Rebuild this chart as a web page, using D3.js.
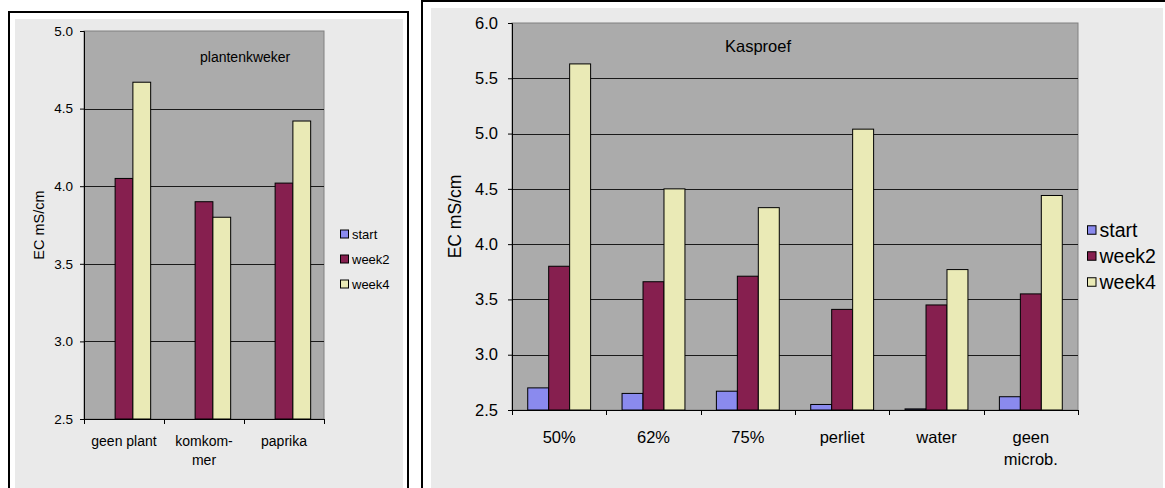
<!DOCTYPE html>
<html>
<head>
<meta charset="utf-8">
<script src="https://cdn.jsdelivr.net/npm/d3@7"></script>
<style>
  body { margin: 0; background: #fff; }
  svg { display: block; font-family: "Liberation Sans", Arial, sans-serif; }
</style>
</head>
<body>
<svg id="charts" width="1165" height="488"></svg>
<script>
// series names and colours (shared by both charts)
var seriesNames = ["start", "week2", "week4"];
var seriesColors = ["#8a8aee", "#861f4f", "#eaeab6"];

// left chart: plantenkweker
var leftCategories = ["geen plant", "komkom-\nmer", "paprika"];
var leftStart = [null, null, null];
var leftWeek2 = [4.05, 3.90, 4.02];
var leftWeek4 = [4.67, 3.80, 4.42];
var leftTicks = [2.5, 3.0, 3.5, 4.0, 4.5, 5.0];

// right chart: Kasproef
var rightCategories = ["50%", "62%", "75%", "perliet", "water", "geen\nmicrob."];
var rightStart = [2.70, 2.65, 2.67, 2.55, 2.51, 2.62];
var rightWeek2 = [3.80, 3.66, 3.71, 3.41, 3.45, 3.55];
var rightWeek4 = [5.63, 4.50, 4.33, 5.04, 3.77, 4.44];
var rightTicks = [2.5, 3.0, 3.5, 4.0, 4.5, 5.0, 5.5, 6.0];

var svg = d3.select("#charts");

function drawChart(opt) {
    var g = svg.append("g");

    // frame: black border, white gap, light gray chart area
    g.append("rect")
        .attr("x", opt.frame[0]).attr("y", opt.frame[1])
        .attr("width", opt.frame[2]).attr("height", opt.frame[3])
        .attr("fill", "#fff").attr("stroke", "#000").attr("stroke-width", 2);
    g.append("rect")
        .attr("x", opt.inner[0]).attr("y", opt.inner[1])
        .attr("width", opt.inner[2]).attr("height", opt.inner[3])
        .attr("fill", "#eaeaea");

    var x = d3.scaleBand()
        .domain(opt.categories)
        .range([opt.plot.left, opt.plot.right]);

    var xs = d3.scaleBand()
        .domain(seriesNames)
        .range([0, x.bandwidth()])
        .paddingInner(0)
        .paddingOuter(0.75);

    var y = d3.scaleLinear()
        .domain([opt.ticks[0], opt.ticks[opt.ticks.length - 1]])
        .range([opt.plot.bottom, opt.plot.top]);

    // plot area
    g.append("rect")
        .attr("x", opt.plot.left).attr("y", opt.plot.top)
        .attr("width", opt.plot.right - opt.plot.left)
        .attr("height", opt.plot.bottom - opt.plot.top)
        .attr("fill", "#ababab").attr("stroke", "#808080");

    // gridlines
    g.selectAll(".grid")
        .data(opt.ticks.slice(1, -1))
        .enter().append("line")
        .attr("x1", opt.plot.left).attr("x2", opt.plot.right)
        .attr("y1", function (d) { return Math.round(y(d)) + 0.5; })
        .attr("y2", function (d) { return Math.round(y(d)) + 0.5; })
        .attr("stroke", "#1a1a1a");

    // title
    g.append("text")
        .attr("x", opt.title.x).attr("y", opt.title.y)
        .style("font-size", opt.title.size + "px")
        .text(opt.title.text);

    // bars
    var table = [];
    opt.categories.forEach(function (c, i) {
        opt.values.forEach(function (vals, s) {
            if (vals[i] != null) {
                table.push({ cat: c, series: seriesNames[s], value: vals[i], color: seriesColors[s] });
            }
        });
    });

    g.selectAll(".bar")
        .data(table)
        .enter().append("rect")
        .attr("x", function (d) { return x(d.cat) + xs(d.series); })
        .attr("width", xs.bandwidth())
        .attr("y", function (d) { return y(d.value); })
        .attr("height", function (d) { return y.range()[0] - y(d.value); })
        .attr("fill", function (d) { return d.color; })
        .attr("stroke", "#000")
        .attr("stroke-width", 1);

    // y axis
    var yAxis = g.append("g")
        .attr("transform", "translate(" + opt.plot.left + ",0)")
        .call(d3.axisLeft(y).tickValues(opt.ticks).tickFormat(d3.format(".1f")).tickSize(4).tickPadding(opt.tickPad));
    yAxis.select(".domain").attr("stroke", "#000");
    yAxis.selectAll(".tick line").attr("stroke", "#000");
    yAxis.selectAll("text")
        .style("font-size", opt.tickSize + "px")
        .style("font-family", "Liberation Sans, Arial, sans-serif")
        .attr("fill", "#000");

    // x axis: ticks at category boundaries
    var xAxisG = g.append("g");
    xAxisG.append("line")
        .attr("x1", opt.plot.left).attr("x2", opt.plot.right)
        .attr("y1", opt.plot.bottom + 0.5).attr("y2", opt.plot.bottom + 0.5)
        .attr("stroke", "#000");
    var bounds = opt.categories.map(function (c) { return x(c); }).concat([opt.plot.right]);
    xAxisG.selectAll(".xt")
        .data(bounds)
        .enter().append("line")
        .attr("x1", function (d) { return Math.round(d) + 0.5; })
        .attr("x2", function (d) { return Math.round(d) + 0.5; })
        .attr("y1", opt.plot.bottom).attr("y2", opt.plot.bottom + 5)
        .attr("stroke", "#000");

    var labels = xAxisG.selectAll(".xl")
        .data(opt.categories)
        .enter().append("text")
        .attr("text-anchor", "middle")
        .style("font-size", opt.labelSize + "px")
        .attr("y", opt.plot.bottom + opt.labelOffset);
    labels.each(function (c) {
        var t = d3.select(this);
        c.split("\n").forEach(function (line, k) {
            t.append("tspan")
                .attr("x", x(c) + x.bandwidth() / 2)
                .attr("dy", k === 0 ? 0 : opt.lineHeight)
                .text(line);
        });
    });

    // y axis label
    g.append("text")
        .attr("transform", "translate(" + opt.yLabel.x + "," + ((opt.plot.top + opt.plot.bottom) / 2) + ") rotate(-90)")
        .attr("text-anchor", "middle")
        .style("font-size", opt.yLabel.size + "px")
        .text("EC mS/cm");

    // legend
    var leg = g.selectAll(".leg")
        .data(seriesNames)
        .enter().append("g")
        .attr("transform", function (d, i) {
            return "translate(" + opt.legend.x + "," + (opt.legend.y + i * opt.legend.step) + ")";
        });
    leg.append("rect")
        .attr("x", 0.5).attr("y", -opt.legend.box / 2)
        .attr("width", opt.legend.box).attr("height", opt.legend.box)
        .attr("fill", function (d, i) { return seriesColors[i]; })
        .attr("stroke", "#000");
    leg.append("text")
        .attr("x", opt.legend.box + 4)
        .attr("dy", "0.35em")
        .style("font-size", opt.legend.size + "px")
        .text(function (d) { return d; });
}

drawChart({
    frame: [9, 12, 399, 490],
    inner: [15, 19, 388, 480],
    plot: { left: 84, right: 324, top: 31, bottom: 419 },
    categories: leftCategories,
    values: [leftStart, leftWeek2, leftWeek4],
    ticks: leftTicks,
    tickSize: 13.5,
    tickPad: 7,
    labelSize: 14,
    labelOffset: 27,
    lineHeight: 19,
    title: { text: "plantenkweker", x: 200, y: 62, size: 14 },
    yLabel: { x: 44, size: 14.5 },
    legend: { x: 340, y: 234, step: 25, box: 8, size: 13 }
});

drawChart({
    frame: [422, 1, 760, 500],
    inner: [431, 8, 732, 490],
    plot: { left: 512, right: 1078, top: 23, bottom: 410 },
    categories: rightCategories,
    values: [rightStart, rightWeek2, rightWeek4],
    ticks: rightTicks,
    tickSize: 16.5,
    tickPad: 10,
    labelSize: 16.5,
    labelOffset: 33,
    lineHeight: 22,
    title: { text: "Kasproef", x: 725, y: 52, size: 16.5 },
    yLabel: { x: 461, size: 17.5 },
    legend: { x: 1087, y: 230, step: 26, box: 8.5, size: 19.5 }
});
</script>
</body>
</html>
